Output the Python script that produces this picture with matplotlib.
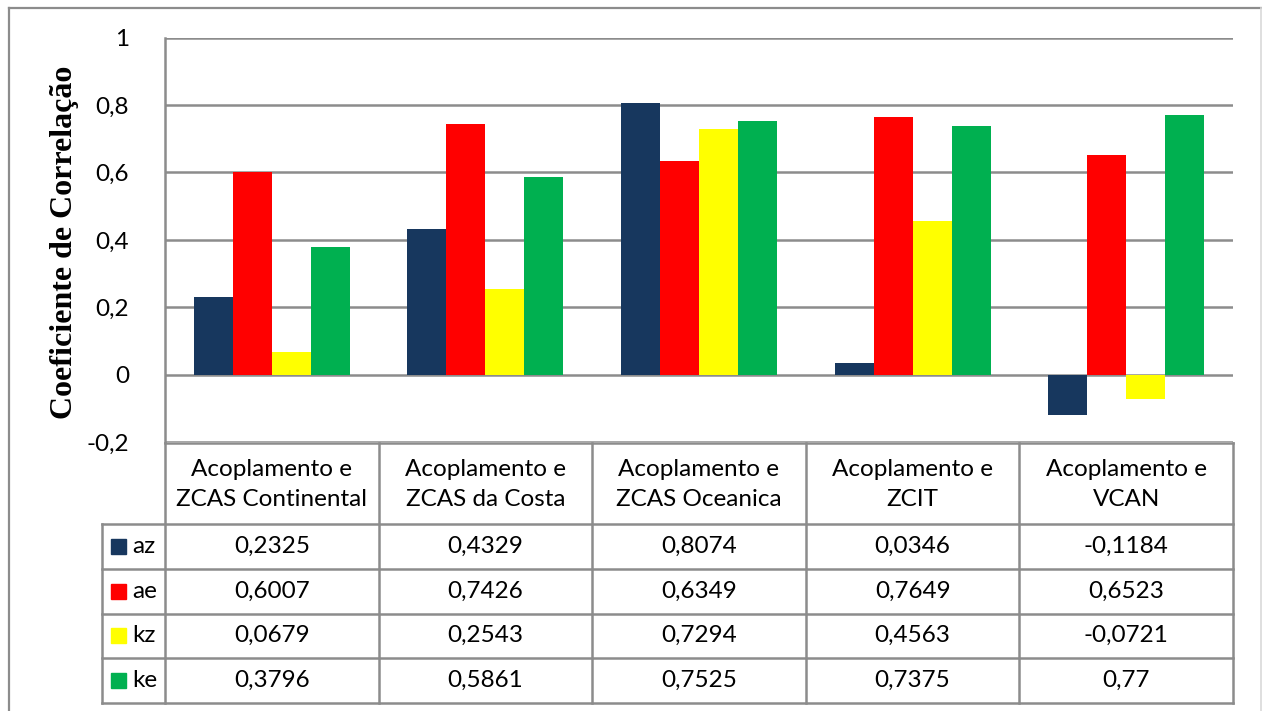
import matplotlib
matplotlib.use("Agg")
import matplotlib.pyplot as plt
from matplotlib.patches import Rectangle
from matplotlib.lines import Line2D
import numpy as np

categories = [
    "Acoplamento e\nZCAS Continental",
    "Acoplamento e\nZCAS da Costa",
    "Acoplamento e\nZCAS Oceanica",
    "Acoplamento e\nZCIT",
    "Acoplamento e\nVCAN",
]
series_names = ["az", "ae", "kz", "ke"]
az = [0.2325, 0.4329, 0.8074, 0.0346, -0.1184]
ae = [0.6007, 0.7426, 0.6349, 0.7649, 0.6523]
kz = [0.0679, 0.2543, 0.7294, 0.4563, -0.0721]
ke = [0.3796, 0.5861, 0.7525, 0.7375, 0.77]
yticks = [-0.2, 0, 0.2, 0.4, 0.6, 0.8, 1.0]
ytick_labels = ["-0,2", "0", "0,2", "0,4", "0,6", "0,8", "1"]

series = [az, ae, kz, ke]
colors = ["#17375E", "#FF0000", "#FFFF00", "#00B050"]
grid_col = "#8C8C8C"
text_font = "Lato"
fs = 17.5

W, H = 1262, 711
fig = plt.figure(figsize=(W / 100, H / 100), dpi=100)


def fx(px):
    return px / W


def fy(py):
    return 1 - py / H


# outer chart frame
fig.add_artist(Line2D([fx(8.5), fx(8.5)], [fy(7.5), fy(715)], color="#8C8C8C", lw=1.6))
fig.add_artist(Line2D([fx(8.5), fx(1261)], [fy(7.5), fy(7.5)], color="#8C8C8C", lw=1.6))
fig.add_artist(Line2D([fx(1260.5), fx(1260.5)], [fy(7.5), fy(715)], color="#D9D9D9", lw=1.2))

x_left, x_right = 165, 1233
y_top, y_bot = 37.5, 442.5
ax = fig.add_axes([fx(x_left), fy(y_bot), fx(x_right) - fx(x_left), fy(y_top) - fy(y_bot)])

x = np.arange(len(categories))
n = len(series)
bw = 0.1826
for i, (vals, c) in enumerate(zip(series, colors)):
    ax.bar(x + (i - (n - 1) / 2) * bw, vals, width=bw, color=c, edgecolor="none", zorder=3)

ax.set_xlim(-0.5, len(categories) - 0.5)
ax.set_ylim(-0.2, 1.0)
ax.set_yticks(yticks)
ax.set_yticklabels(ytick_labels, fontfamily=text_font, fontsize=fs, color="#000000")
ax.tick_params(axis="y", length=0, pad=26)
ax.set_xticks([])
for yv in yticks:
    ax.axhline(yv, color=grid_col, lw=1.8, zorder=1)
for s in ["top", "right", "bottom"]:
    ax.spines[s].set_visible(False)
ax.spines["left"].set_color(grid_col)
ax.spines["left"].set_linewidth(1.8)

ax.set_ylabel("Coeficiente de Correlação", fontfamily="Liberation Serif",
              fontweight="bold", fontsize=23)
ax.yaxis.set_label_coords((79 - x_left) / (x_right - x_left), 0.495)

# data table below the plot, columns aligned with the categories
t_top, t_bot = 442.5, 702.5
tax = fig.add_axes([fx(x_left), fy(t_bot), fx(x_right) - fx(x_left), fy(t_top) - fy(t_bot)])
tax.set_xlim(-0.5, len(categories) - 0.5)
tax.set_ylim(t_bot, t_top)
tax.axis("off")

header_bot = 524
row_edges = [header_bot, 569, 613.5, 658, 702.5]
unit = (x_right - x_left) / len(categories)
leg_left = -0.5 - (x_left - 102) / unit
lc = dict(color=grid_col, lw=1.8, clip_on=False, solid_capstyle="projecting")

# horizontal rules
tax.plot([-0.5, len(categories) - 0.5], [t_top, t_top], **lc)
for yv in row_edges:
    tax.plot([leg_left, len(categories) - 0.5], [yv, yv], **lc)
# vertical rules
for xv in np.arange(len(categories) + 1) - 0.5:
    tax.plot([xv, xv], [t_top, t_bot], **lc)
tax.plot([leg_left, leg_left], [header_bot, t_bot], **lc)

for j, cat in enumerate(categories):
    tax.text(j, (t_top + header_bot) / 2 + 1, cat, ha="center", va="center",
             fontfamily=text_font, fontsize=fs, linespacing=1.5)


def fmt(v):
    return f"{v:.4f}".rstrip("0").rstrip(".").replace(".", ",")


for i, (name, vals, c) in enumerate(zip(series_names, series, colors)):
    yc = (row_edges[i] + row_edges[i + 1]) / 2
    sq = 15 / unit
    tax.add_patch(Rectangle((leg_left + 9 / unit, yc + 7.5), sq, -15, color=c, clip_on=False))
    tax.text(leg_left + 30 / unit, yc, name, ha="left", va="center",
             fontfamily=text_font, fontsize=fs)
    for j, v in enumerate(vals):
        tax.text(j, yc, fmt(v), ha="center", va="center", fontfamily=text_font, fontsize=fs)

fig.savefig("out.png", dpi=100)
